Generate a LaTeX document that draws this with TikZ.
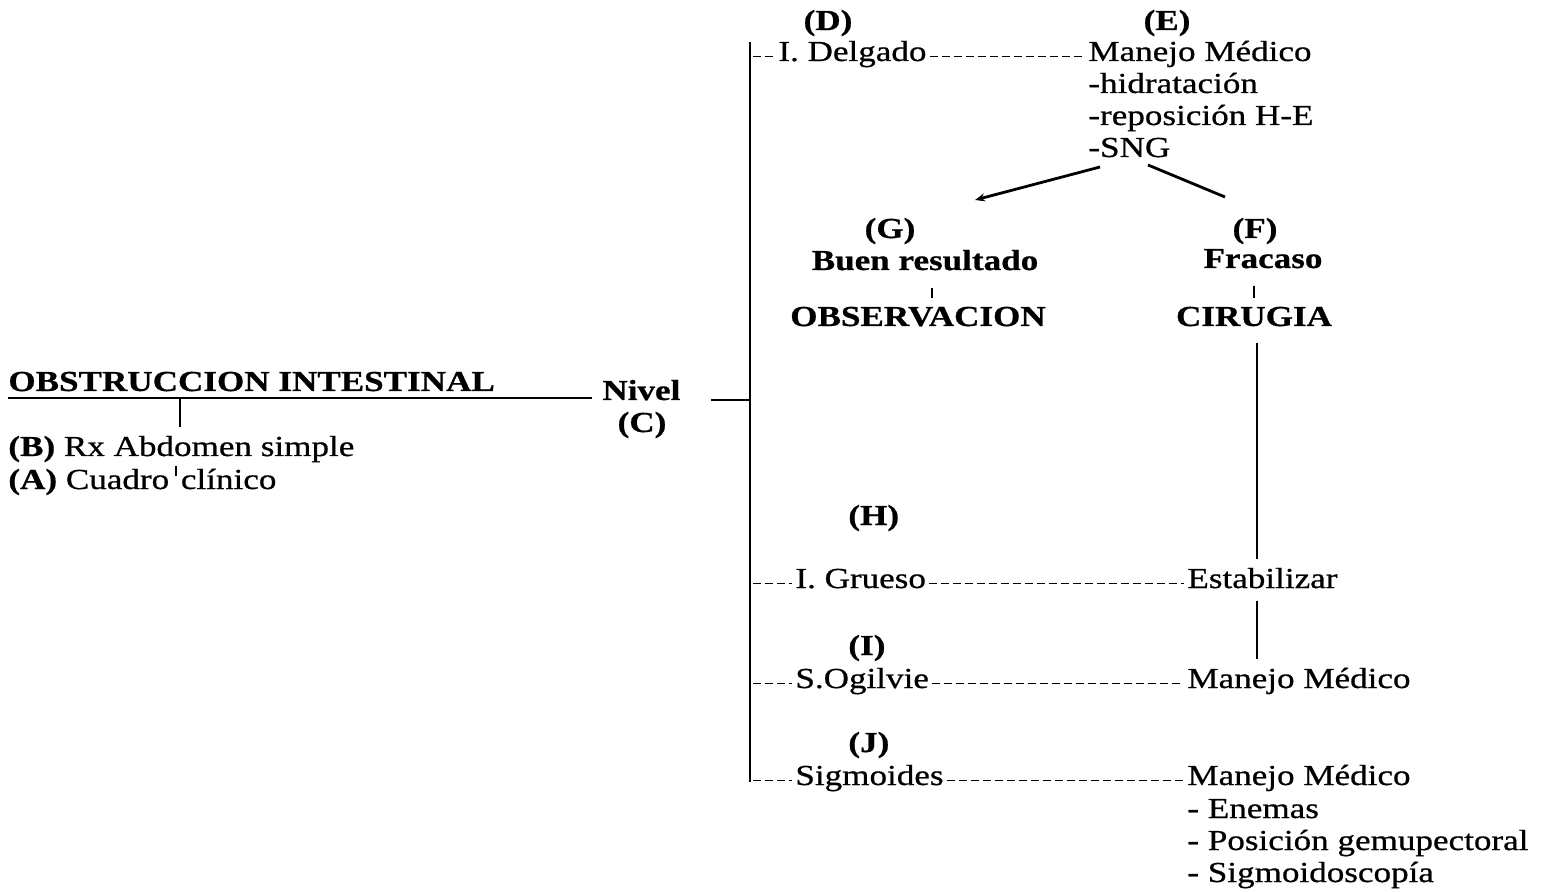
\documentclass[tikz,border=0pt]{standalone}
\usepackage{fontspec}
\setmainfont{Liberation Serif}[FakeStretch=1.21, FakeBold=0.7]
\usetikzlibrary{positioning,arrows.meta}

\tikzset{
	txt/.style={inner sep=0pt, anchor=base west, font=\fontsize{14.5}{16}\selectfont},
	btxt/.style={txt, font=\fontsize{14.5}{16}\selectfont\bfseries},
	ctxt/.style={btxt, anchor=base},
	link/.style={line width=1.4pt},
	thinlink/.style={line width=0.9pt},
	dashlink/.style={line width=0.9pt, dash pattern=on 4pt off 2pt, shorten >=1.5pt, shorten <=1.5pt},
}

\begin{document}
\begin{tikzpicture}[x=0.5pt, y=-0.5pt]
	\useasboundingbox (0,0) rectangle (1556,892);

	% left part
	\node[btxt] (obst)   at (8,391)   {OBSTRUCCION INTESTINAL};
	\node[btxt] (nivel)  at (602,400) {Nivel};
	\node[ctxt] (clab)   at (642,432) {(C)};
	\node[txt]  (rxb)    at (8,456)   {\textbf{(B)} Rx Abdomen simple};
	\node[txt]  (cuadro) at (8,489)   {\textbf{(A)} Cuadro\hspace{1.5pt} clínico};

	\coordinate (ulstart) at (8,398);
	\coordinate (ulend)   at (592,398);
	\coordinate (tick)    at (180,398);
	\coordinate (ticka)   at (176,466);
	\coordinate (tickb)   at (176,476);
	\draw[link] (ulstart) -- (ulend);
	\draw[thinlink, shorten >=4pt] (tick) -- (tick |- rxb.north);
	\draw[thinlink] (ticka) -- (tickb);

	% main vertical line
	\coordinate (vtop) at (750,42);
	\coordinate (vbot) at (750,782);
	\draw[link] (vtop) -- (vbot);
	\draw[link, shorten <=15pt] (nivel.base east) -- (nivel.base -| vtop);

	% intestino delgado
	\node[ctxt] (dlab)    at (828,30)   {(D)};
	\node[ctxt] (elab)    at (1167,30)  {(E)};
	\node[txt]  (delgado) at (778,61)   {I. Delgado};
	\node[txt]  (manejoA) at (1088,61)  {Manejo Médico};
	\node[txt]  (hidr)    at (1088,93)  {-hidratación};
	\node[txt]  (repos)   at (1088,125) {-reposición H-E};
	\node[txt]  (sng)     at (1088,157) {-SNG};

	\draw[dashlink] (delgado.mid -| vtop) -- (delgado.mid west);
	\draw[dashlink] (delgado.mid east) -- (manejoA.mid west);

	\coordinate (garrow) at (975,200);
	\coordinate (farrow) at (1225,197);
	\draw[link, -{Stealth[length=5pt,width=4pt]}] ([xshift=6pt,yshift=-5pt]sng.base west) -- (garrow);
	\draw[link] ([xshift=30pt,yshift=-4pt]sng.base west) -- (farrow);

	\node[ctxt] (glab)    at (890,238)  {(G)};
	\node[ctxt] (flab)    at (1255,238) {(F)};
	\node[ctxt] (buen)    at (925,270)  {Buen resultado};
	\node[ctxt] (fracaso) at (1263,268) {Fracaso};
	\node[ctxt] (obs)     at (918,326)  {OBSERVACION};
	\node[ctxt] (cirugia) at (1254,326) {CIRUGIA};

	\draw[thinlink, shorten <=8.5pt, shorten >=4pt] ([xshift=3.5pt]buen.south) -- ([xshift=3.5pt]buen.south |- obs.north);
	\draw[thinlink, shorten <=8.5pt, shorten >=4pt] (fracaso.south -| cirugia.south) -- (cirugia.north);

	% intestino grueso
	\node[btxt] (hlab)    at (848,525)  {(H)};
	\node[txt]  (grueso)  at (795,588)  {I. Grueso};
	\node[txt]  (estab)   at (1187,588) {Estabilizar};
	\node[btxt] (ilab)    at (848,655)  {(I)};
	\node[txt]  (ogilvie) at (795,688)  {S.Ogilvie};
	\node[txt]  (manejoB) at (1187,688) {Manejo Médico};
	\node[btxt] (jlab)    at (848,752)  {(J)};
	\node[txt]  (sigm)    at (795,785)  {Sigmoides};
	\node[txt]  (manejoC) at (1187,785) {Manejo Médico};
	\node[txt]  (enemas)  at (1187,818) {- Enemas};
	\node[txt]  (posic)   at (1187,850) {- Posición gemupectoral};
	\node[txt]  (sigmo)   at (1187,882) {- Sigmoidoscopía};

	\draw[dashlink] (grueso.mid -| vtop) -- (grueso.mid west);
	\draw[dashlink] (grueso.mid east) -- (estab.mid west);
	\draw[dashlink] (ogilvie.mid -| vtop) -- (ogilvie.mid west);
	\draw[dashlink] (ogilvie.mid east) -- (manejoB.mid west);
	\draw[dashlink] (sigm.mid -| vtop) -- (sigm.mid west);
	\draw[dashlink] (sigm.mid east) -- (manejoC.mid west);

	\draw[link, shorten <=8pt, shorten >=4pt] ([xshift=1.5pt]cirugia.south) -- ([xshift=1.5pt]cirugia.south |- estab.north);
	\draw[link, shorten <=6pt, shorten >=4pt] ([xshift=1.5pt]cirugia.south |- estab.south) -- ([xshift=1.5pt]cirugia.south |- manejoB.north);

\end{tikzpicture}
\end{document}
